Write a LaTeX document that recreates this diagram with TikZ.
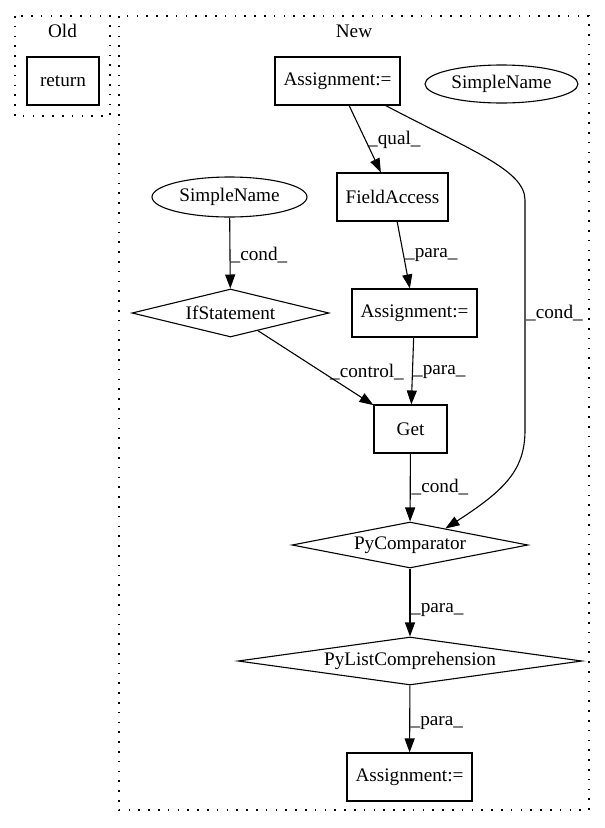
\documentclass[tikz,border=0pt]{standalone}
\usepackage{fontspec}
\setmainfont{Liberation Serif}
\usetikzlibrary{shapes.geometric,arrows.meta}
\begin{document}
\begin{tikzpicture}[x=1pt,y=-1pt,
  every node/.style={font=\fontsize{19.2}{22}\selectfont},
  box/.style={draw,line width=1.1pt,rectangle,inner sep=0pt,minimum height=48pt},
  oval/.style={draw,line width=1.1pt,ellipse,inner sep=0pt},
  dia/.style={draw,line width=1.1pt,diamond,inner sep=0pt},
  edge/.style={line width=1.1pt,-{Triangle[length=14pt,width=10pt]}},
  lbl/.style={inner sep=1pt,anchor=west},
  cluster/.style={line width=1.5pt,dash pattern=on 1.6pt off 8.2pt}]
\useasboundingbox (0,0) rectangle (605,828);
% clusters
\draw[cluster] (15,16) rectangle (110,116);
\node (oldlbl) at (62.5,31) {Old};
\draw[cluster] (119,16) rectangle (589,810);
\node (newlbl) at (354,31) {New};
% nodes
\node[box,minimum width=72pt] (ret) at (63,81) {return};
\node[box,minimum width=125pt] (a1) at (337.5,81) {Assignment:=};
\node[oval,minimum width=153pt,minimum height=38pt] (sn1) at (501.5,84) {SimpleName};
\node[oval,minimum width=155pt,minimum height=40pt] (sn2) at (229.5,197) {SimpleName};
\node[box,minimum width=111pt] (fa) at (392.5,197) {FieldAccess};
\node[dia,minimum width=197pt,minimum height=48pt,label=center:IfStatement] (ifs) at (230.5,313) {};
\node[box,minimum width=125pt] (a2) at (414.5,313) {Assignment:=};
\node[box,minimum width=73pt] (get) at (410.5,429) {Get};
\node[dia,minimum width=236pt,minimum height=46pt,label=center:PyComparator] (pyc) at (410,545) {};
\node[dia,minimum width=344pt,minimum height=48pt,label=center:PyListComprehension] (plc) at (410,661) {};
\node[box,minimum width=125pt] (a3) at (409.5,777) {Assignment:=};
% edges
\draw[edge] (a1) -- (fa);
\node[lbl] (l1) at (367,140) {\_qual\_};
\draw[edge] (fa) -- (a2);
\node[lbl] (l2) at (404,255) {\_para\_};
\draw[edge] (sn2) -- (ifs);
\node[lbl] (l3) at (229.5,255) {\_cond\_};
\draw[edge] (ifs) -- (get);
\node[lbl] (l4) at (329,372) {\_control\_};
\draw[edge] (a2) -- (get);
\node[lbl] (l5) at (412,372) {\_para\_};
\draw[edge] (get) -- (pyc);
\node[lbl] (l6) at (410.5,487) {\_cond\_};
\draw[edge] (a1.-27.8) .. controls (470,150) and (525,170) .. (525,200)
  -- (525,430) .. controls (525,470) and (505,490) .. (pyc.25.9);
\node[lbl] (l7) at (525,313) {\_cond\_};
\draw[edge] (pyc) -- (plc);
\node[lbl] (l8) at (410,610) {\_para\_};
\draw[edge] (plc) -- (a3);
\node[lbl] (l9) at (409.5,723) {\_para\_};
\end{tikzpicture}
\end{document}
